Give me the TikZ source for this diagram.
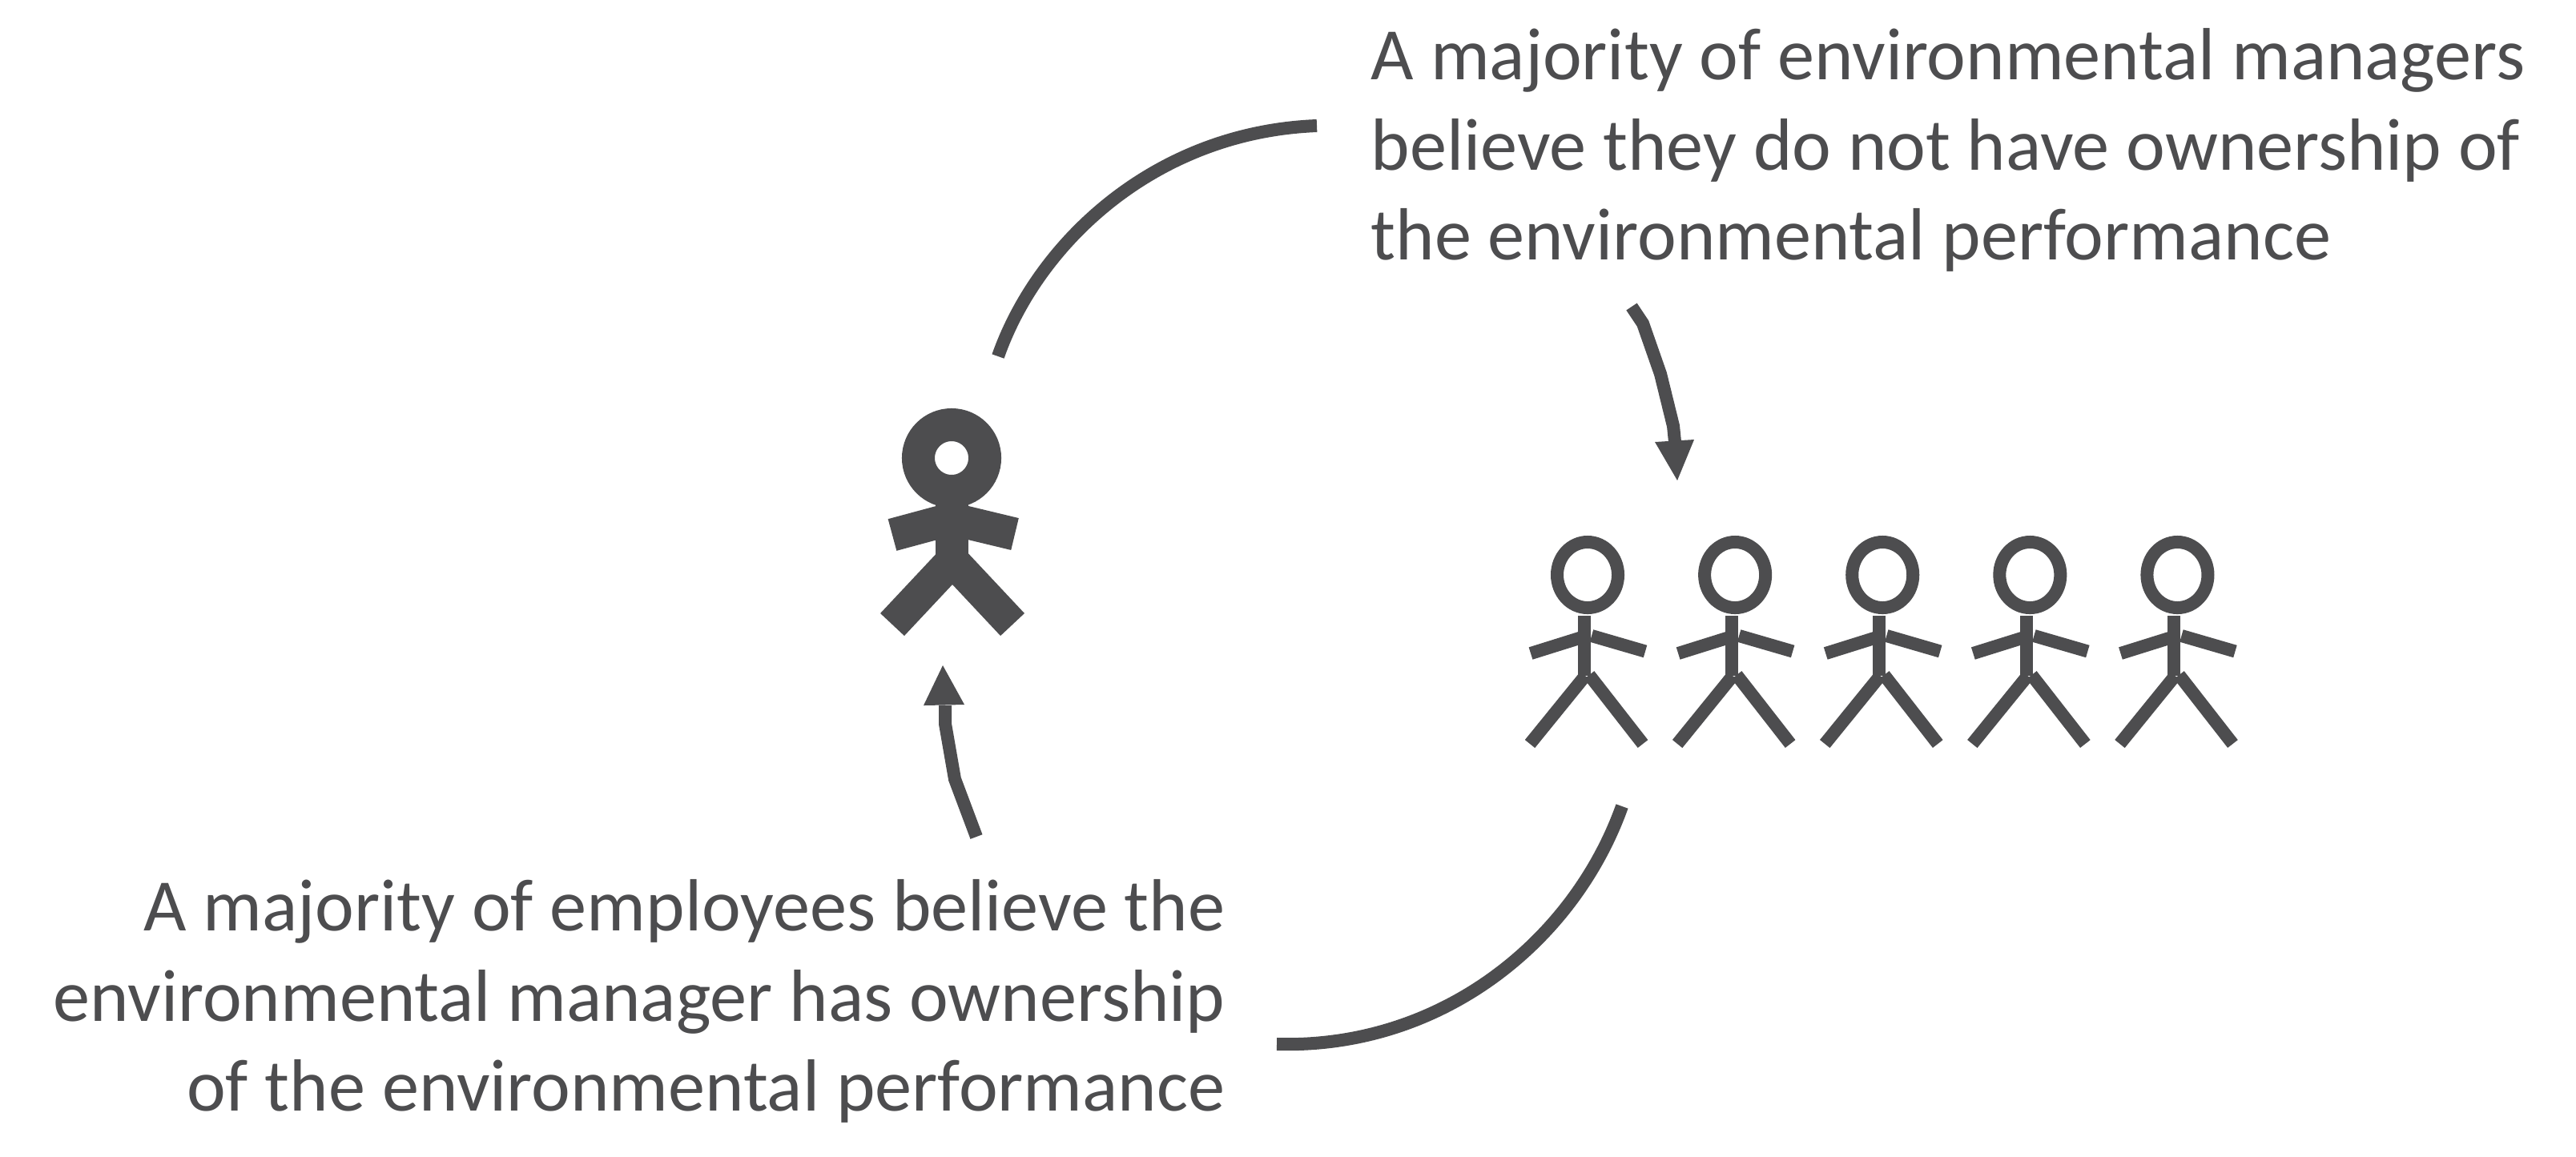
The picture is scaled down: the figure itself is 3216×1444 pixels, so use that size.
\documentclass[tikz,border=0pt]{standalone}
\usepackage{fontspec}
\setmainfont{Carlito}
\usetikzlibrary{shapes.geometric}
\definecolor{figgray}{RGB}{77,77,79}

\begin{document}
\begin{tikzpicture}[x=0.01cm,y=-0.01cm]

\tikzstyle{caption}=[text=figgray, font=\fontsize{26.25}{32}\selectfont, inner sep=0pt]
\tikzstyle{flow}=[draw=figgray, line width=0.16cm]
\tikzstyle{tip}=[fill=figgray, draw=none]
\tikzstyle{limb}=[draw=figgray, line width=0.16cm]
\tikzstyle{biglimb}=[draw=figgray, line width=0.41cm]

\useasboundingbox (0,0) rectangle (3216,1444);

% texts
\node (mgrtext) [caption, align=left, anchor=north west] at (1711,35) {A majority of environmental managers\\believe they do not have ownership of\\the environmental performance};
\node (emptext) [caption, align=right, anchor=north east] at (1530,1098) {A majority of employees believe the\\environmental manager has ownership\\of the environmental performance};

% single manager
\node (mgrhead) [circle, draw=figgray, line width=0.41cm, minimum size=0.83cm, inner sep=0pt] at (1188,572) {};
\draw[biglimb] (1188,620) -- (1188,700);
\draw[biglimb] (1114,668) -- (1188,648) -- (1267,667);
\draw[biglimb] (1114,780) -- (1189,700) -- (1264,780);

% group of employees
\foreach \i in {0,...,4} {
    \begin{scope}[xshift=\i*1.84cm]
    \node (emp\i) [ellipse, draw=figgray, line width=0.16cm, minimum width=0.76cm, minimum height=0.82cm, inner sep=0pt] at (1982,718) {};
    \draw[limb] (1977.5,769) -- (1977.5,844);
    \draw[limb] (1911,816) -- (1978,795);
    \draw[limb] (1987,794) -- (2054,813.5);
    \draw[limb] (1910,929) -- (1979,844);
    \draw[limb] (1984,843) -- (2051,929);
    \end{scope}
}

% connectors
\coordinate (a1) at (1246,445);
\coordinate (a2) at (1644,157);
\draw[flow] (a1) .. controls (1295,305) and (1440,165) .. (a2);
\coordinate (b1) at (2037,383);
\coordinate (b2) at (2091,552);
\coordinate (b3) at (2094,600);
\draw[flow] (b1) -- (2051,404) -- (2073,467) -- (2089,532) -- (b2);
\fill[tip] (b3) -- (2066,552) -- (2115,549) -- cycle;
\coordinate (c1) at (1219,1045);
\coordinate (c2) at (1180,881);
\coordinate (c3) at (1177,831);
\draw[flow] (c1) -- (1192,973) -- (1180,904) -- (c2);
\fill[tip] (c3) -- (1153,881) -- (1204,880) -- cycle;
\coordinate (d1) at (2025,1007);
\coordinate (d2) at (1594,1304);
\draw[flow] (d1) .. controls (1965,1175) and (1800,1310) .. (d2);

\end{tikzpicture}
\end{document}
